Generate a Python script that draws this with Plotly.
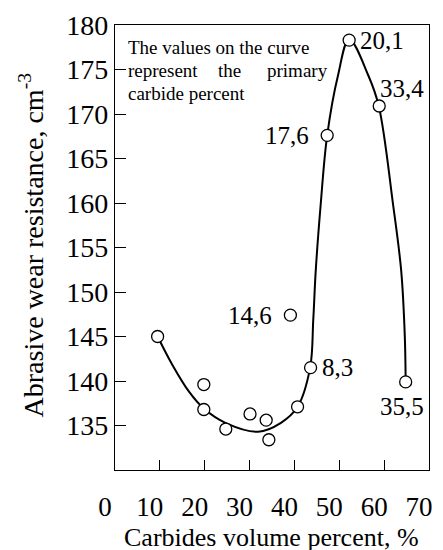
import plotly.graph_objects as go

# Smoothed trend curve through the measurements
curve_x = [9.5, 12.8, 16.5, 19.8, 24.6, 31.9, 37.0, 40.7, 43.5, 44.2, 44.75, 45.85,
           47.3, 49.7, 52.2, 56.5, 58.8, 62.0, 63.8, 64.6, 64.8]
curve_y = [145.0, 141.8, 138.8, 136.9, 135.3, 134.3, 135.3, 137.1, 141.5, 146.9, 152.4, 159.8,
           167.6, 174.3, 178.4, 174.3, 170.9, 159.8, 152.4, 145.1, 139.9]

# Measured points: carbides volume percent vs abrasive wear resistance
carbide_vol = [9.5, 19.8, 19.8, 24.7, 30.1, 33.7, 34.3, 40.7, 43.6, 39.1, 47.3, 52.2, 58.9, 64.8]
wear_res = [145.0, 139.6, 136.8, 134.6, 136.3, 135.6, 133.4, 137.1, 141.5, 147.4, 167.6, 178.3, 170.9, 139.9]

# Primary carbide percent written beside some of the points
labelled_x = [43.6, 39.1, 47.3, 52.2, 58.9, 64.8]
labelled_y = [141.5, 147.4, 167.6, 178.3, 170.9, 139.9]
primary_pct = ["8,3", "14,6", "17,6", "20,1", "33,4", "35,5"]
label_side = ["right", "left", "left", "right", "upper right", "below"]

x_ticks = [0, 10, 20, 30, 40, 50, 60, 70]
y_ticks = [135, 140, 145, 150, 155, 160, 165, 170, 175, 180]

FONT = "Liberation Serif"
INK = "black"

# anchor and pixel offset for each label placement
PLACEMENT = {
    "right": dict(xanchor="left", yanchor="middle", xshift=9, yshift=0),
    "left": dict(xanchor="right", yanchor="middle", xshift=-16, yshift=0),
    "upper right": dict(xanchor="left", yanchor="middle", xshift=-1, yshift=17),
    "below": dict(xanchor="center", yanchor="middle", xshift=-4, yshift=-25),
}

fig = go.Figure()
fig.add_trace(go.Scatter(
    x=curve_x, y=curve_y, mode="lines",
    line=dict(color=INK, width=2, shape="spline", smoothing=1.0),
    hoverinfo="skip", showlegend=False,
))
fig.add_trace(go.Scatter(
    x=carbide_vol, y=wear_res, mode="markers",
    marker=dict(symbol="circle", size=12, color="white",
                line=dict(color=INK, width=1.3)),
    showlegend=False,
))

for lx, ly, txt, side in zip(labelled_x, labelled_y, primary_pct, label_side):
    fig.add_annotation(x=lx, y=ly, xref="x", yref="y", text=txt, showarrow=False,
                       font=dict(family=FONT, size=25, color=INK), **PLACEMENT[side])

# Explanatory note, justified over three lines
note_font = dict(family=FONT, size=19, color=INK)
fig.add_annotation(xref="paper", yref="paper", x=0.036, y=0.949, xanchor="left",
                   yanchor="middle", text="The values on the curve",
                   showarrow=False, font=note_font)
fig.add_annotation(xref="paper", yref="paper", x=0.036, y=0.898, xanchor="left",
                   yanchor="middle", text="represent", showarrow=False, font=note_font)
fig.add_annotation(xref="paper", yref="paper", x=0.322, y=0.898, xanchor="left",
                   yanchor="middle", text="the", showarrow=False, font=note_font)
fig.add_annotation(xref="paper", yref="paper", x=0.686, y=0.898, xanchor="right",
                   yanchor="middle", text="primary", showarrow=False, font=note_font)
fig.add_annotation(xref="paper", yref="paper", x=0.036, y=0.845, xanchor="left",
                   yanchor="middle", text="carbide percent", showarrow=False, font=note_font)

# Axis titles
fig.add_annotation(xref="paper", yref="paper", x=0.497, y=-0.152, xanchor="center",
                   yanchor="middle", text="Carbides volume percent, %", showarrow=False,
                   font=dict(family=FONT, size=26, color=INK))
fig.add_annotation(xref="paper", yref="paper", x=-0.267, y=0.505, xanchor="center",
                   yanchor="middle", textangle=-90,
                   text="Abrasive wear resistance, cm<sup>-3</sup>", showarrow=False,
                   font=dict(family=FONT, size=28, color=INK))

fig.update_xaxes(
    range=[0, 70], tickvals=x_ticks, ticktext=[str(v) for v in x_ticks],
    ticks="inside", ticklen=10, tickwidth=1, tickcolor=INK,
    showline=True, linecolor=INK, linewidth=1.2, mirror=True,
    showgrid=False, zeroline=False,
    tickfont=dict(family=FONT, size=27, color=INK),
    ticklabelstandoff=12, ticklabelshift=-10,
)
fig.update_yaxes(
    range=[130, 180], tickvals=y_ticks, ticktext=[str(v) for v in y_ticks],
    ticks="inside", ticklen=11, tickwidth=1, tickcolor=INK,
    showline=True, linecolor=INK, linewidth=1.2, mirror=True,
    showgrid=False, zeroline=False,
    tickfont=dict(family=FONT, size=28, color=INK),
)

fig.update_layout(
    width=443, height=550,
    margin=dict(l=115, r=10, t=17, b=80),
    paper_bgcolor="white", plot_bgcolor="white",
)

fig.write_html("out.html")
